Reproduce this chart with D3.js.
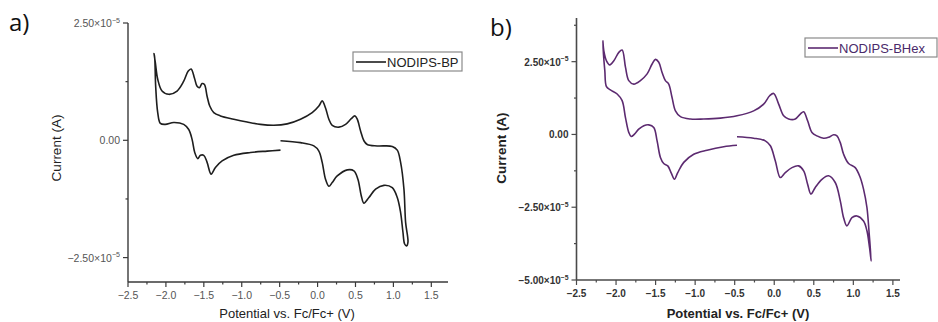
<!DOCTYPE html>
<html>
<head>
<meta charset="utf-8">
<script src="https://cdn.jsdelivr.net/npm/d3@7"></script>
<style>
  html, body { margin: 0; padding: 0; background: #fff; }
  svg { display: block; }
</style>
</head>
<body>
<svg id="chart" width="938" height="322"></svg>
<script>
// Cyclic voltammograms, current in units of 1e-5 A, potential in V vs Fc/Fc+

// a) NODIPS-BP
const bpPotential = [
  -0.489, -0.225, -0.049, 0.017, 0.061, 0.105, 0.149, 0.193, 0.259, 0.391, 0.479, 0.532, 0.576, 0.611,
  0.677, 0.765, 0.875, 0.985, 1.051, 1.095, 1.126, 1.148, 1.174, 1.192,
  1.161, 1.139, 1.095, 1.051, 0.985, 0.787, 0.655, 0.611, 0.567, 0.523, 0.492, 0.444, 0.369, 0.281,
  0.193, 0.149, 0.105, 0.061, 0.017, -0.071, -0.225, -0.401, -0.577, -0.753, -0.929, -1.105, -1.281,
  -1.369, -1.422, -1.457, -1.492, -1.523, -1.558, -1.589, -1.624, -1.668, -1.708, -1.765, -1.853,
  -1.963, -2.051, -2.108, -2.139, -2.157, -2.148, -2.135, -2.108, -2.073, -2.007, -1.897, -1.765,
  -1.699, -1.655, -1.620, -1.580, -1.545, -1.501, -1.457, -1.404, -1.347, -1.259, -1.105, -0.885,
  -0.665, -0.489
];
const bpCurrent = [
  -0.01, -0.05, -0.12, -0.23, -0.47, -0.83, -0.98, -0.90, -0.76, -0.63, -0.65, -0.83, -1.18, -1.34,
  -1.22, -1.04, -0.96, -1.01, -1.22, -1.54, -1.96, -2.21, -2.25, -2.17,
  -1.75, -1.04, -0.47, -0.21, -0.13, -0.12, -0.09, -0.01, 0.20, 0.45, 0.52, 0.46, 0.34, 0.28,
  0.32, 0.45, 0.69, 0.84, 0.73, 0.59, 0.45, 0.35, 0.32, 0.34, 0.39, 0.45, 0.52,
  0.59, 0.73, 0.94, 1.19, 1.21, 1.12, 1.15, 1.33, 1.52, 1.47, 1.26, 1.05,
  0.98, 1.05, 1.30, 1.65, 1.85, 1.76, 1.15, 0.59, 0.36, 0.34, 0.38, 0.34,
  0.23, 0.02, -0.26, -0.39, -0.32, -0.32, -0.47, -0.72, -0.58, -0.44, -0.32, -0.26,
  -0.23, -0.21
];

// b) NODIPS-BHex
const bhexPotential = [
  -0.471, -0.260, -0.113, -0.049, 0.014, 0.077, 0.140, 0.224, 0.308, 0.372, 0.422, 0.464, 0.519,
  0.603, 0.687, 0.771, 0.835, 0.877, 0.919, 0.982, 1.045, 1.129, 1.172, 1.205, 1.226,
  1.201, 1.172, 1.129, 1.087, 1.024, 0.940, 0.877, 0.835, 0.793, 0.751, 0.687, 0.624, 0.540, 0.477,
  0.422, 0.372, 0.329, 0.266, 0.182, 0.119, 0.056, -0.007, -0.058, -0.134, -0.260, -0.471, -0.681,
  -0.892, -1.060, -1.186, -1.249, -1.292, -1.334, -1.376, -1.418, -1.460, -1.502, -1.544, -1.607,
  -1.692, -1.776, -1.839, -1.881, -1.923, -1.965, -2.028, -2.079, -2.121, -2.155, -2.167, -2.159,
  -2.142, -2.121, -2.071, -1.986, -1.923, -1.881, -1.839, -1.809, -1.767, -1.713, -1.649, -1.586,
  -1.523, -1.481, -1.439, -1.397, -1.346, -1.300, -1.262, -1.220, -1.144, -1.018, -0.849, -0.639,
  -0.471
];
const bhexCurrent = [
  -0.08, -0.13, -0.22, -0.39, -0.91, -1.48, -1.31, -1.14, -1.08, -1.25, -1.71, -2.05, -1.82,
  -1.54, -1.42, -1.65, -2.28, -2.86, -3.14, -2.86, -2.80, -2.97, -3.31, -3.89, -4.35,
  -3.43, -2.51, -1.88, -1.48, -1.14, -1.00, -0.68, -0.28, -0.05, -0.01, -0.10, -0.13, -0.05, 0.07,
  0.47, 0.78, 0.70, 0.53, 0.53, 0.64, 1.04, 1.41, 1.33, 1.04, 0.81, 0.64, 0.56,
  0.53, 0.53, 0.61, 0.81, 1.27, 1.73, 1.85, 2.13, 2.48, 2.58, 2.42, 2.08,
  1.85, 1.73, 1.85, 2.31, 2.90, 2.82, 2.53, 2.39, 2.53, 2.88, 3.22, 2.76,
  2.19, 1.64, 1.53, 1.39, 1.16, 0.58, 0.07, -0.07, 0.01, 0.18, 0.30, 0.33,
  0.24, -0.22, -0.79, -1.00, -1.08, -1.34, -1.54, -1.31, -0.96, -0.68, -0.54, -0.42,
  -0.37
];

const xTickValues = [-2.5, -2.0, -1.5, -1.0, -0.5, 0.0, 0.5, 1.0, 1.5];
const yTickValuesA = [2.5, 0, -2.5];
const yTickValuesB = [2.5, 0, -2.5, -5.0];

const svg = d3.select("#chart");
const tickFont = "'Liberation Sans', Arial, sans-serif";

function fmtX(v) {
  return (v < 0 ? "\u2212" : "") + Math.abs(v).toFixed(1);
}

function drawPanel(cfg) {
  const g = svg.append("g");
  const x = d3.scaleLinear().domain(cfg.xDomain).range(cfg.xRange);
  const y = d3.scaleLinear().domain(cfg.yDomain).range(cfg.yRange);
  const weight = cfg.bold ? "bold" : "normal";

  // x axis with outward ticks and half-step minor ticks
  const xAxis = g.append("g").attr("transform", `translate(0,${cfg.yRange[0]})`);
  xAxis.append("line")
    .attr("x1", cfg.xRange[0]).attr("x2", cfg.xRange[1])
    .attr("stroke", cfg.axisColor).attr("stroke-width", cfg.axisWidth);
  const minorX = d3.range(-2.25, cfg.xDomain[1], 0.5);
  xAxis.selectAll("line.minor").data(minorX).join("line")
    .attr("class", "minor")
    .attr("x1", d => x(d)).attr("x2", d => x(d))
    .attr("y1", 0).attr("y2", 2.5)
    .attr("stroke", cfg.axisColor).attr("stroke-width", 1.2);
  xAxis.selectAll("line.major").data(xTickValues).join("line")
    .attr("class", "major")
    .attr("x1", d => x(d)).attr("x2", d => x(d))
    .attr("y1", 0).attr("y2", 5)
    .attr("stroke", cfg.axisColor).attr("stroke-width", 1.2);
  xAxis.selectAll("text").data(xTickValues).join("text")
    .attr("x", d => x(d)).attr("y", cfg.xLabelDy)
    .attr("text-anchor", "middle")
    .attr("font-family", tickFont).attr("font-size", cfg.tickSize)
    .attr("font-weight", weight).attr("fill", cfg.tickColor)
    .text(fmtX);

  // y axis
  const yAxis = g.append("g").attr("transform", `translate(${cfg.xRange[0]},0)`);
  yAxis.append("line")
    .attr("y1", cfg.yRange[0]).attr("y2", cfg.yRange[1])
    .attr("stroke", cfg.axisColor).attr("stroke-width", cfg.axisWidth);
  const minorY = d3.range(-3.75, cfg.yDomain[1], 2.5).filter(v => v > cfg.yDomain[0]);
  yAxis.selectAll("line.minor").data(minorY).join("line")
    .attr("class", "minor")
    .attr("y1", d => y(d)).attr("y2", d => y(d))
    .attr("x1", 0).attr("x2", -2.5)
    .attr("stroke", cfg.axisColor).attr("stroke-width", 1.2);
  yAxis.selectAll("line.major").data(cfg.yTicks).join("line")
    .attr("class", "major")
    .attr("y1", d => y(d)).attr("y2", d => y(d))
    .attr("x1", 0).attr("x2", -5)
    .attr("stroke", cfg.axisColor).attr("stroke-width", 1.2);
  const yl = yAxis.selectAll("text").data(cfg.yTicks).join("text")
    .attr("x", -8).attr("y", d => y(d) + 4)
    .attr("text-anchor", "end")
    .attr("font-family", tickFont).attr("font-size", cfg.tickSize)
    .attr("font-weight", weight).attr("fill", cfg.tickColor);
  yl.each(function(d) {
    const t = d3.select(this);
    if (d === 0) { t.text("0.00"); return; }
    t.append("tspan").text((d < 0 ? "\u2212" : "") + Math.abs(d).toFixed(2) + "\u00d710");
    t.append("tspan").attr("dy", -4.5).attr("font-size", cfg.tickSize * 0.68).text("\u22125");
  });

  // axis titles
  g.append("text")
    .attr("x", cfg.xTitlePos[0]).attr("y", cfg.xTitlePos[1])
    .attr("text-anchor", "middle")
    .attr("font-family", tickFont).attr("font-size", 13)
    .attr("font-weight", weight).attr("fill", "#222")
    .text("Potential vs. Fc/Fc+ (V)");
  g.append("text")
    .attr("transform", `translate(${cfg.yTitlePos[0]},${cfg.yTitlePos[1]}) rotate(-90)`)
    .attr("text-anchor", "middle")
    .attr("font-family", tickFont).attr("font-size", 13.5)
    .attr("font-weight", weight).attr("fill", "#222")
    .text("Current (A)");

  // voltammogram trace
  const pts = cfg.potential.map((v, i) => [v, cfg.current[i]]);
  const line = d3.line()
    .x(d => x(d[0])).y(d => y(d[1]))
    .curve(d3.curveCatmullRom.alpha(0.5));
  g.append("path")
    .datum(pts)
    .attr("d", line)
    .attr("fill", "none")
    .attr("stroke", cfg.color)
    .attr("stroke-width", 1.6)
    .attr("stroke-linejoin", "round");

  // legend
  const lg = g.append("g").attr("transform", `translate(${cfg.legend[0]},${cfg.legend[1]})`);
  lg.append("rect")
    .attr("width", cfg.legend[2]).attr("height", 19)
    .attr("fill", "#fff").attr("stroke", "#8a8a8a").attr("stroke-width", 1.2);
  lg.append("line")
    .attr("x1", 3).attr("x2", cfg.legendLine).attr("y1", 10).attr("y2", 10)
    .attr("stroke", cfg.color).attr("stroke-width", 1.6);
  lg.append("text")
    .attr("x", cfg.legendLine + 1).attr("y", 14.5)
    .attr("font-family", tickFont).attr("font-size", 13)
    .attr("fill", cfg.legendText)
    .text(cfg.name);

  // panel letter
  svg.append("text")
    .attr("x", cfg.letterPos[0]).attr("y", cfg.letterPos[1])
    .attr("font-family", "'Open Sans', 'Liberation Sans', sans-serif")
    .attr("font-size", 24).attr("fill", "#111")
    .text(cfg.letter);
}

drawPanel({
  letter: "a)", letterPos: [9, 31],
  name: "NODIPS-BP",
  potential: bpPotential, current: bpCurrent,
  xDomain: [-2.5, 1.72], xRange: [128, 448],
  yDomain: [-3.02, 2.5], yRange: [282, 23],
  yTicks: yTickValuesA,
  bold: false, axisColor: "#3a3a3a", axisWidth: 1.4,
  tickColor: "#555", tickSize: 10.5, xLabelDy: 17,
  xTitlePos: [287, 318], yTitlePos: [61, 148],
  color: "#1e1e1e", legendText: "#222",
  legend: [353, 52, 109], legendLine: 33
});

drawPanel({
  letter: "b)", letterPos: [490, 36],
  name: "NODIPS-BHex",
  potential: bhexPotential, current: bhexCurrent,
  xDomain: [-2.5, 1.59], xRange: [576.5, 900],
  yDomain: [-5.0, 4.0], yRange: [280, 18],
  yTicks: yTickValuesB,
  bold: true, axisColor: "#4a4a4a", axisWidth: 1.6,
  tickColor: "#333", tickSize: 10, xLabelDy: 17,
  xTitlePos: [738, 318], yTitlePos: [506, 148],
  color: "#5c2a70", legendText: "#4a2a6a",
  legend: [805, 38, 132], legendLine: 33
});
</script>
</body>
</html>
